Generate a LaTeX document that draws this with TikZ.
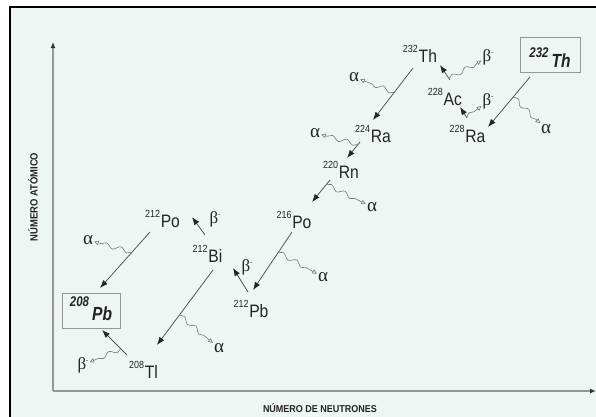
\documentclass[tikz,border=0pt]{standalone}
\usepackage{fontspec}
\setmainfont{Liberation Serif}
\newfontfamily\hv[FakeStretch=0.87]{Liberation Sans}
\newfontfamily\hvx[FakeStretch=0.82]{Liberation Sans}
\newfontfamily\hvn[FakeStretch=0.9]{Liberation Sans}
\usetikzlibrary{arrows.meta,decorations.pathmorphing}
\definecolor{bgc}{RGB}{238,246,244}
\definecolor{linec}{RGB}{85,85,85}
\definecolor{wavec}{RGB}{120,120,120}
\definecolor{axisc}{RGB}{150,150,150}
\definecolor{txtc}{RGB}{35,35,35}
\newcommand\el[2]{{\hv\fontsize{10.3}{11}\selectfont\raisebox{10pt}{#1}}\hspace{0.8pt}{\hv\fontsize{18}{20}\selectfont #2}}
\newcommand\bx[3]{{\hvx\bfseries\itshape\fontsize{14}{15}\selectfont\raisebox{#1}{#2}}\hspace{3pt}{\hvx\bfseries\itshape\fontsize{19}{20}\selectfont #3}}
\newcommand\gal{{\fontsize{19}{19}\selectfont α}}
\newcommand\gbe{{\fontsize{17}{17}\selectfont β\raisebox{7pt}{\fontsize{7}{7}\selectfont -}}}
\tikzset{
  el/.style={anchor=base, inner sep=0pt, text=txtc},
  gk/.style={inner sep=1pt, text=txtc},
  arr/.style={draw=linec, line width=0.8pt, -{Latex[length=8pt,width=6pt,color=black!85]}},
  wav/.style={draw=wavec, line width=0.6pt, decorate,
    decoration={snake, amplitude=2.2pt, segment length=15pt, post length=5pt},
    -{Triangle[open,length=4.5pt,width=4.5pt]}},
  ebox/.style={draw=axisc, line width=0.9pt, inner sep=0pt, text=txtc},
  axisl/.style={draw=axisc, line width=1.3pt, -{Latex[length=6pt,width=5pt,color=black!80]}},
  axlab/.style={text=txtc, inner sep=0pt}
}
\begin{document}
\begin{tikzpicture}[x=1pt,y=-1pt]
\clip (0,0) rectangle (596,416);
\fill[white] (0,0) rectangle (596,416);
\filldraw[fill=bgc, draw=black, line width=1.6pt] (10,7) rectangle (650,470);

% axes
\coordinate (O) at (53,391);
\coordinate (Ytop) at (53,42);
\coordinate (Xend) at (596,391);
\draw[axisl] (O) -- (Ytop);
\draw[axisl] (O) -- (Xend);
\node[axlab, rotate=90] (ylab) at (33,197) {\hvn\bfseries\fontsize{10.5}{10.5}\selectfont NÚMERO ATÓMICO};
\node[axlab] (xlab) at (320,408) {\hvn\bfseries\fontsize{10}{10}\selectfont NÚMERO DE NEUTRONES};

% elements
\node[el] (th232) at (420,62) {\el{232}{Th}};
\node[el] (ac228) at (445,105) {\el{228}{Ac}};
\node[el] (ra228) at (467.5,142) {\el{228}{Ra}};
\node[el] (ra224) at (373,142) {\el{224}{Ra}};
\node[el] (rn220) at (341,178) {\el{220}{Rn}};
\node[el] (po216) at (294,228) {\el{216}{Po}};
\node[el] (po212) at (162.5,227) {\el{212}{Po}};
\node[el] (bi212) at (207.5,262) {\el{212}{Bi}};
\node[el] (pb212) at (251,317) {\el{212}{Pb}};
\node[el] (tl208) at (143.5,378) {\el{208}{Tl}};

\node[ebox, minimum width=60pt, text height=30pt, text depth=5pt] (thbox) at (550,54.5) {\bx{10pt}{232}{Th}};
\node[ebox, minimum width=58pt, text height=27pt, text depth=8pt] (pbbox) at (91,310.5) {\bx{14pt}{208}{Pb}};

% greek labels
\node[gk] (a1) at (354,77) {\gal};
\node[gk] (a2) at (315,133) {\gal};
\node[gk] (a3) at (372,207) {\gal};
\node[gk] (a4) at (323,277) {\gal};
\node[gk] (a5) at (88,240) {\gal};
\node[gk] (a6) at (219,348) {\gal};
\node[gk] (a7) at (546,129) {\gal};
\node[gk] (b1) at (488,57) {\gbe};
\node[gk] (b2) at (488,101) {\gbe};
\node[gk] (b3) at (247,267) {\gbe};
\node[gk] (b4) at (215,219) {\gbe};
\node[gk] (b5) at (83,365) {\gbe};

% decay arrows
\draw[arr] ([shift={(-7,6)}]th232.base) -- coordinate[pos=.47] (m1) ([shift={(0,-22)}]ra224.base);
\draw[arr] ([shift={(5,-25)}]ac228.base) -- coordinate[pos=.1] (m2) ([shift={(20,3)}]th232.base);
\draw[arr] ([shift={(-0.5,-24)}]ra228.base) -- coordinate[pos=.05] (m3) ([shift={(15,2)}]ac228.base);
\draw[arr] ([shift={(-20,22.5)}]thbox.center) -- coordinate[pos=.4] (m4) ([shift={(20.5,-15)}]ra228.base);
\draw[arr] ([shift={(-13,0)}]ra224.base) -- coordinate[pos=.15] (m5) ([shift={(6,-20)}]rn220.base);
\draw[arr] ([shift={(-11,2)}]rn220.base) -- coordinate[pos=.2] (m6) ([shift={(18,-26)}]po216.base);
\draw[arr] ([shift={(-2,4)}]po216.base) -- coordinate[pos=.35] (m7) ([shift={(2,-27)}]pb212.base);
\draw[arr] ([shift={(-3,-25)}]pb212.base) -- ([shift={(25.5,6)}]bi212.base);
\draw[arr] ([shift={(-2.5,-27)}]bi212.base) -- ([shift={(29.5,-10)}]po212.base);
\draw[arr] ([shift={(-12.5,5)}]po212.base) -- coordinate[pos=.36] (m10) ([shift={(9,-22.5)}]pbbox.center);
\draw[arr] ([shift={(5.5,8)}]bi212.base) -- coordinate[pos=.6] (m11) ([shift={(13.5,-33)}]tl208.base);
\draw[arr] ([shift={(-16.5,-23)}]tl208.base) -- coordinate[pos=.25] (m12) ([shift={(11,19.5)}]pbbox.center);

% emissions
\draw[wav] (m1) -- (a1);
\draw[wav] (m2) -- (b1);
\draw[wav] (m3) -- (b2);
\draw[wav] (m4) -- (a7);
\draw[wav] (m5) -- (a2);
\draw[wav] (m6) -- (a3);
\draw[wav] (m7) -- (a4);
\draw[wav] (m10) -- (a5);
\draw[wav] (m11) -- (a6);
\draw[wav] (m12) -- (b5);
\end{tikzpicture}
\end{document}
